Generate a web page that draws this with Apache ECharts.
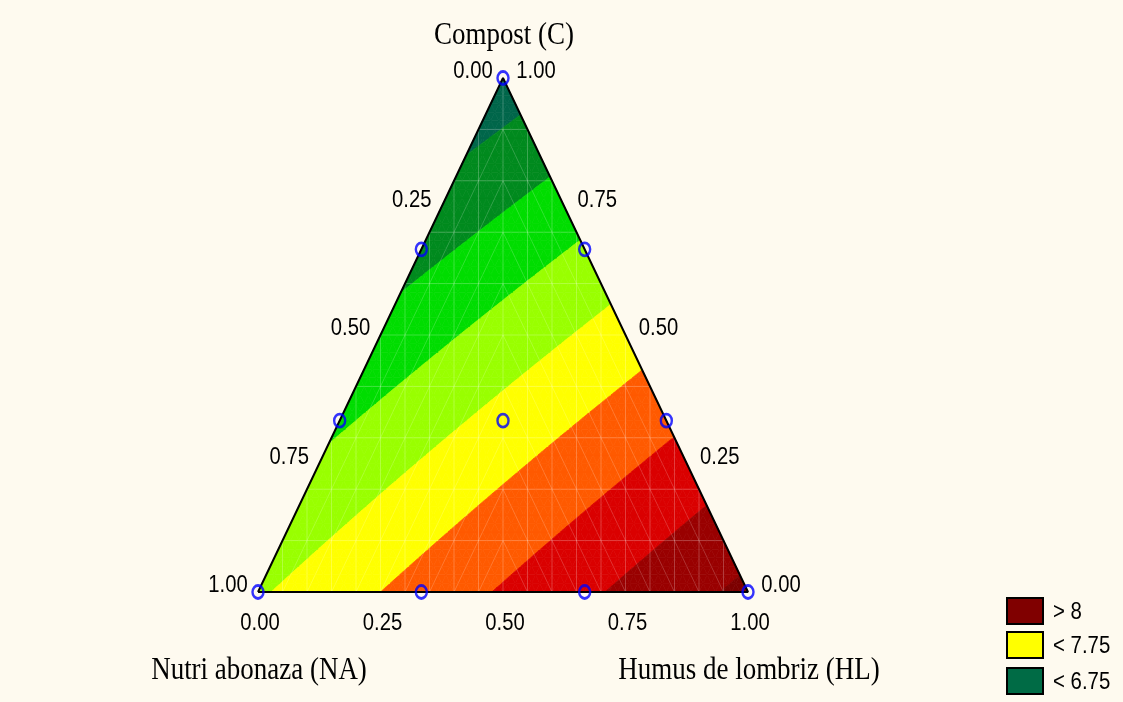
<!DOCTYPE html>
<html><head><meta charset="utf-8">
<script src="https://cdn.jsdelivr.net/npm/echarts@6/dist/echarts.min.js"></script>
<style>html,body{margin:0;padding:0;background:#FEFAEF}#c{width:1123px;height:702px}</style>
</head><body><div id="c"></div><script>
// ---------------- data ----------------
const titleTop = 'Compost (C)';
const titleLeft = 'Nutri abonaza (NA)';
const titleRight = 'Humus de lombriz (HL)';
// fitted Scheffé quadratic model terms (response surface)
const modelTerms = ['NA', 'HL', 'C', 'NA*HL', 'NA*C', 'HL*C'];
const modelCoefs = [7.47, 8.56, 6.60, 0.04, 0.15, 0.15];
const contourLevels = [6.75, 7.0, 7.25, 7.5, 7.75, 8.0, 8.25, 8.5];
const bandColors = ['#00664A', '#008A1E', '#00DD00', '#99FF00', '#FFFF00', '#FF5A00', '#DA0000', '#990000', '#7C0000'];
// simplex-lattice design points
const designNA = [1, 2/3, 1/3, 0, 2/3, 1/3, 0, 1/3, 0, 0];
const designHL = [0, 1/3, 2/3, 1, 0, 1/3, 2/3, 0, 1/3, 0];
const designC  = [0, 0, 0, 0, 1/3, 1/3, 1/3, 2/3, 2/3, 1];
const tickValues = [0, 0.25, 0.5, 0.75, 1];
const tickLabels = ['0.00', '0.25', '0.50', '0.75', '1.00'];
const legendLabels = ['> 8', '< 7.75', '< 6.75'];
const legendColors = ['#800000', '#FFFF00', '#006B45'];

// ---------------- helpers ----------------
const SANS = '"Liberation Sans", Arial, sans-serif';
const SERIF = '"Liberation Serif", "Times New Roman", serif';
const SQX = 0.87; // horizontal condensation of the text
function toXY(na, hl, c) { return [hl + c / 2, c]; }
function model(na, hl, c) {
  const t = [na, hl, c, na * hl, na * c, hl * c];
  let s = 0; for (let i = 0; i < t.length; i++) s += modelCoefs[i] * t[i];
  return s;
}
function clip(poly, level, keepAbove) {
  const out = [];
  for (let i = 0; i < poly.length; i++) {
    const a = poly[i], b = poly[(i + 1) % poly.length];
    const ina = keepAbove ? a[2] >= level : a[2] <= level;
    const inb = keepAbove ? b[2] >= level : b[2] <= level;
    if (ina) out.push(a);
    if (ina !== inb) {
      const t = (level - a[2]) / (b[2] - a[2]);
      out.push([a[0] + t * (b[0] - a[0]), a[1] + t * (b[1] - a[1]), level]);
    }
  }
  return out;
}
function bandOf(v) { let b = 0; while (b < contourLevels.length && v >= contourLevels[b]) b++; return b; }

// build contour polygons on a fine triangular mesh
const N = 60;
const polys = [];
function vert(i, j) { const hl = i / N, c = j / N, na = 1 - hl - c; const p = toXY(na, hl, c); return [p[0], p[1], model(na, hl, c)]; }
function addTri(tri) {
  const fs = tri.map(p => p[2]);
  const bmin = bandOf(Math.min(...fs)), bmax = bandOf(Math.max(...fs));
  for (let b = bmin; b <= bmax; b++) {
    let poly = tri;
    if (b > 0) poly = clip(poly, contourLevels[b - 1], true);
    if (poly.length && b < contourLevels.length) poly = clip(poly, contourLevels[b], false);
    if (poly.length >= 3) polys.push({ band: b, pts: poly.map(p => [p[0], p[1]]) });
  }
}
for (let j = 0; j < N; j++) {
  for (let i = 0; i < N - j; i++) {
    addTri([vert(i, j), vert(i + 1, j), vert(i, j + 1)]);
    if (i + j < N - 1) addTri([vert(i + 1, j), vert(i + 1, j + 1), vert(i, j + 1)]);
  }
}

// faint mesh lines (rendering lattice)
const meshSegs = [];
for (let k = 1; k < 10; k++) { const c = k / 10; meshSegs.push({ a: [c / 2, c], b: [1 - c / 2, c], o: 0.24 }); }
for (let j = 1; j < 20; j++) { const x = j / 20; meshSegs.push({ a: [x, 0], b: [x, Math.min(2 * x, 2 * (1 - x))], o: 0.24 }); }
for (let k = 0; k < 10; k++) {
  const c0 = k / 10;
  for (let j = 0; j < 20; j++) {
    const x0 = j / 20, eps = 1e-9;
    if (x0 + 0.05 <= 0.5 + eps) {
      if (x0 > c0 / 2 + eps) meshSegs.push({ a: [x0, c0], b: [x0 + 0.05, c0 + 0.1], o: 0.17 });
    } else if (x0 >= 0.5 - eps) {
      if (x0 + 0.05 < 1 - c0 / 2 - eps) meshSegs.push({ a: [x0, c0 + 0.1], b: [x0 + 0.05, c0], o: 0.17 });
    }
  }
}

// tick label items
const tickItems = [];
tickValues.forEach((t, i) => {
  tickItems.push({ pos: toXY(1 - t, t, 0), dx: 2, dy: 32, text: tickLabels[i] });      // bottom: HL
  tickItems.push({ pos: toXY(t, 0, 1 - t), dx: -30, dy: -6, text: tickLabels[i] });    // left: NA
  tickItems.push({ pos: toXY(0, 1 - t, t), dx: 33, dy: -6, text: tickLabels[i] });     // right: C
});

const corners = [toXY(1, 0, 0), toXY(0, 1, 0), toXY(0, 0, 1), toXY(1, 0, 0)];
const designData = designNA.map((na, i) => toXY(na, designHL[i], designC[i]));

// ---------------- chart ----------------
const chart = echarts.init(document.getElementById('c'), null, { renderer: 'canvas' });
const graphics = [
  { type: 'text', x: 504, y: 36, scaleX: SQX, z: 10, style: { text: titleTop, font: '31px ' + SERIF, fill: '#000', align: 'center', verticalAlign: 'middle' } },
  { type: 'text', x: 259, y: 671, scaleX: SQX, z: 10, style: { text: titleLeft, font: '31px ' + SERIF, fill: '#000', align: 'center', verticalAlign: 'middle' } },
  { type: 'text', x: 749, y: 671, scaleX: SQX, z: 10, style: { text: titleRight, font: '31px ' + SERIF, fill: '#000', align: 'center', verticalAlign: 'middle' } }
];
const legendTops = [598, 632, 668];
legendLabels.forEach((lab, i) => {
  graphics.push({ type: 'rect', shape: { x: 1007, y: legendTops[i], width: 36, height: 26 }, z: 10, style: { fill: legendColors[i], stroke: '#000', lineWidth: 2 } });
  graphics.push({ type: 'text', x: 1053, y: legendTops[i] + 14, scaleX: 0.85, z: 10, style: { text: lab, font: '24px ' + SANS, fill: '#000', align: 'left', verticalAlign: 'middle' } });
});

chart.setOption({
  backgroundColor: '#FEFAEF',
  animation: false,
  grid: { left: 258, top: 78, width: 490, height: 514 },
  xAxis: { type: 'value', min: 0, max: 1, show: false },
  yAxis: { type: 'value', min: 0, max: 1, show: false },
  graphic: graphics,
  series: [
    {
      type: 'custom', name: 'contours', coordinateSystem: 'cartesian2d', clip: false, progressive: 0, z: 1,
      data: polys.map(p => [p.pts[0][0], p.pts[0][1]]),
      encode: { x: 0, y: 1 },
      renderItem: function (params, api) {
        const p = polys[params.dataIndex];
        const col = bandColors[p.band];
        return { type: 'polygon', shape: { points: p.pts.map(q => api.coord(q)) }, style: { fill: col, stroke: col, lineWidth: 0.7 } };
      }
    },
    {
      type: 'custom', name: 'mesh', coordinateSystem: 'cartesian2d', clip: false, progressive: 0, z: 2, silent: true,
      data: meshSegs.map(s => [s.a[0], s.a[1]]),
      encode: { x: 0, y: 1 },
      renderItem: function (params, api) {
        const s = meshSegs[params.dataIndex];
        const a = api.coord(s.a), b = api.coord(s.b);
        return { type: 'line', shape: { x1: a[0], y1: a[1], x2: b[0], y2: b[1] }, style: { stroke: 'rgba(255,255,255,' + s.o + ')', lineWidth: 1 } };
      }
    },
    {
      type: 'line', name: 'outline', data: corners, symbol: 'none', z: 3, clip: false,
      lineStyle: { color: '#000', width: 2 }
    },
    {
      type: 'scatter', name: 'design', data: designData, symbol: 'circle', symbolSize: [11, 13], z: 4, clip: false,
      itemStyle: { color: 'rgba(0,0,0,0)', borderColor: '#0000FF', borderWidth: 2.6 }
    },
    {
      type: 'custom', name: 'ticks', coordinateSystem: 'cartesian2d', clip: false, z: 5, silent: true,
      data: tickItems.map(t => t.pos),
      encode: { x: 0, y: 1 },
      renderItem: function (params, api) {
        const t = tickItems[params.dataIndex];
        const p = api.coord(t.pos);
        return { type: 'text', x: p[0] + t.dx, y: p[1] + t.dy, scaleX: 0.88, style: { text: t.text, font: '23px ' + SANS, fill: '#000', align: 'center', verticalAlign: 'middle' } };
      }
    }
  ]
});
</script></body></html>
